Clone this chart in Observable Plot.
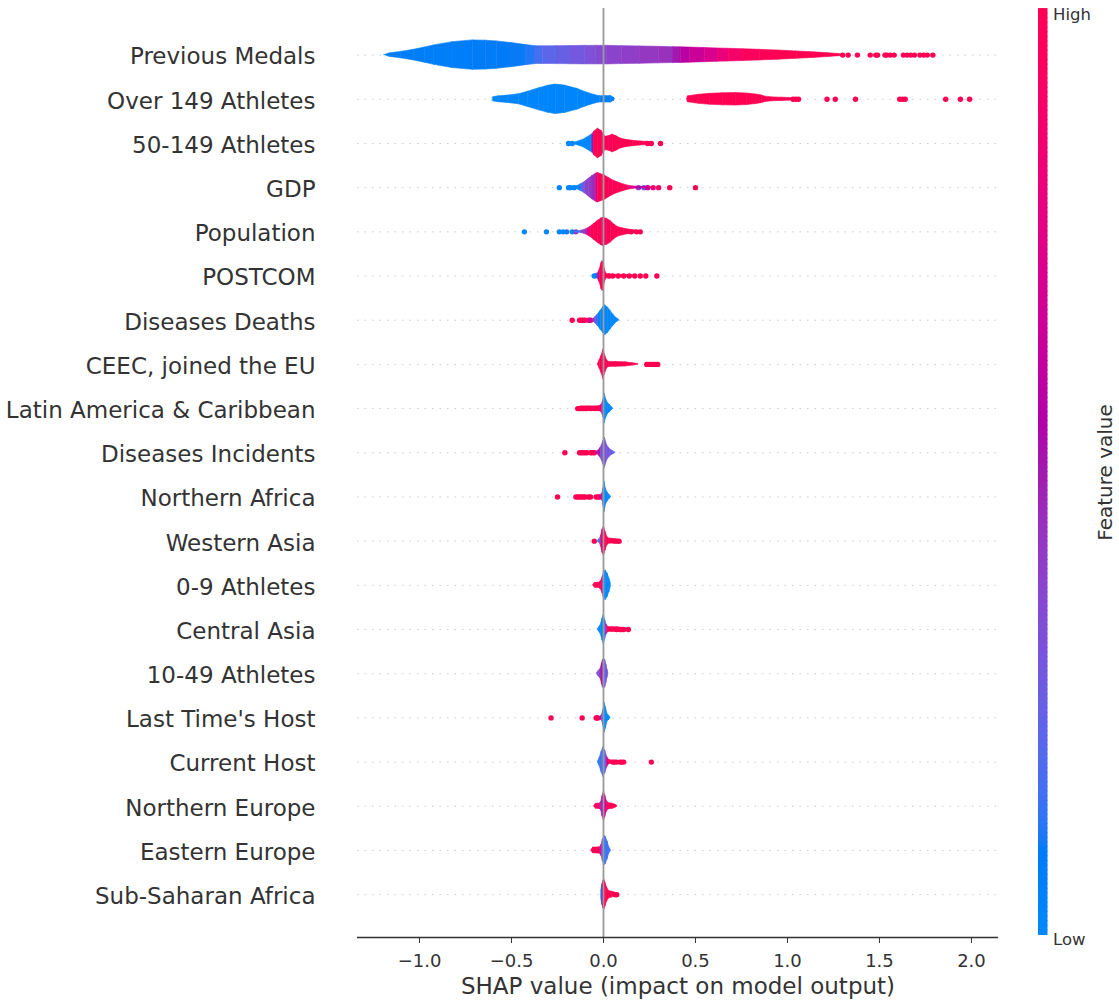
<!DOCTYPE html>
<html><head><meta charset="utf-8">
<script src="https://cdn.jsdelivr.net/npm/d3@7"></script>
<script src="https://cdn.jsdelivr.net/npm/@observablehq/plot@0.6"></script>
<style>
html,body{margin:0;padding:0;background:#fff;}
#wrap{position:relative;width:1119px;height:1002px;font-family:"DejaVu Sans";}
#main{position:absolute;left:0;top:0;}
#cb{position:absolute;left:1030px;top:0;}
</style></head><body><div id="wrap"><div id="main"></div><div id="cb"></div></div>
<script>
// Features, top to bottom
const features = ["Previous Medals","Over 149 Athletes","50-149 Athletes","GDP","Population","POSTCOM","Diseases Deaths","CEEC, joined the EU","Latin America & Caribbean","Diseases Incidents","Northern Africa","Western Asia","0-9 Athletes","Central Asia","10-49 Athletes","Last Time's Host","Current Host","Northern Europe","Eastern Europe","Sub-Saharan Africa"];
const xTicks = [-1.0,-0.5,0.0,0.5,1.0,1.5,2.0];

// Violin profiles: [SHAP value, relative density (0..1), mean feature value (0 low .. 1 high)]
const pmProfile = [[-1.19,0.00,0.07],[-1.16,0.12,0.07],[-1.10,0.22,0.07],[-1.03,0.36,0.07],[-0.97,0.52,0.07],[-0.92,0.66,0.07],[-0.82,0.88,0.07],[-0.71,1.00,0.08],[-0.64,0.98,0.08],[-0.58,0.93,0.08],[-0.50,0.82,0.09],[-0.42,0.68,0.10],[-0.37,0.61,0.12],[-0.33,0.60,0.20],[-0.25,0.61,0.23],[-0.18,0.62,0.26],[-0.10,0.63,0.30],[-0.04,0.63,0.34],[0.02,0.63,0.37],[0.10,0.61,0.39],[0.20,0.59,0.41],[0.30,0.56,0.43],[0.38,0.54,0.45],[0.42,0.53,0.55],[0.47,0.51,0.62],[0.55,0.48,0.68],[0.62,0.45,0.76],[0.68,0.43,0.86],[0.76,0.40,0.93],[0.85,0.36,0.98],[0.95,0.31,1],[1.05,0.25,1],[1.14,0.19,1],[1.22,0.13,1],[1.28,0.07,1],[1.31,0.02,1]];
const o149Profile = [[-0.60,0.14,0.02],[-0.57,0.20,0.02],[-0.52,0.25,0.02],[-0.46,0.34,0.02],[-0.41,0.52,0.02],[-0.35,0.75,0.02],[-0.30,0.92,0.02],[-0.26,1.00,0.02],[-0.21,0.93,0.02],[-0.14,0.70,0.02],[-0.10,0.50,0.02],[-0.05,0.30,0.03],[-0.02,0.21,0.04],[0.01,0.22,0.05],[0.04,0.22,0.05],[0.058,0.10,0.05],[0.062,0,0.05],[0.455,0,1],[0.46,0.20,1],[0.52,0.31,1],[0.58,0.37,1],[0.65,0.41,1],[0.72,0.42,1],[0.78,0.39,1],[0.83,0.32,1],[0.86,0.26,1],[0.88,0.18,1],[0.92,0.13,1],[0.97,0.11,1],[1.01,0.09,1],[1.04,0.03,1]];
const a50Profile = [[-0.17,0.00,0],[-0.15,0.08,0],[-0.11,0.25,0],[-0.07,0.55,0],[-0.06,0.62,0.05],[-0.05,0.80,1],[-0.03,1.00,1],[-0.01,0.85,1],[0.01,0.45,1],[0.03,0.50,0.95],[0.05,0.60,1],[0.07,0.50,1],[0.09,0.35,1],[0.12,0.25,1],[0.16,0.18,1],[0.20,0.14,1],[0.24,0.10,1],[0.26,0.02,1]];
const gdpProfile = [[-0.17,0.03,0],[-0.14,0.12,0],[-0.12,0.25,0.1],[-0.10,0.40,0.35],[-0.08,0.60,0.40],[-0.06,0.80,0.42],[-0.04,0.95,0.48],[-0.03,1.00,1],[-0.01,0.90,1],[0.01,0.80,1],[0.03,0.65,1],[0.05,0.50,0.98],[0.08,0.35,1],[0.11,0.22,1],[0.14,0.12,0.95],[0.18,0.06,0.6],[0.22,0.05,0.5],[0.25,0.03,0.9],[0.28,0.01,0.9]];
const popProfile = [[-0.16,0.02,0.1],[-0.12,0.08,0.2],[-0.09,0.20,0.6],[-0.07,0.35,0.95],[-0.05,0.55,1],[-0.03,0.75,1],[-0.01,0.92,0.95],[0.00,0.95,0.92],[0.02,0.88,0.95],[0.04,0.72,1],[0.06,0.48,1],[0.08,0.32,1],[0.11,0.22,1],[0.14,0.15,1],[0.17,0.10,1],[0.20,0.03,1]];
const postProfile = [[-0.06,0.02,0],[-0.04,0.15,0],[-0.03,0.18,0.2],[-0.02,0.45,1],[-0.01,0.90,1],[-0.004,1.00,1],[0.003,0.70,1],[0.01,0.30,1],[0.02,0.12,1],[0.05,0.09,1],[0.10,0.08,1],[0.15,0.06,1],[0.18,0.03,1]];
const ddProfile = [[-0.06,0.02,0.5],[-0.045,0.20,0.4],[-0.03,0.40,0.1],[-0.015,0.65,0],[0.00,0.90,0],[0.01,1.00,0],[0.025,0.85,0],[0.04,0.60,0],[0.055,0.35,0],[0.07,0.15,0],[0.085,0.03,0]];
const ceecProfile = [[-0.03,0.02,1],[-0.02,0.30,1],[-0.01,0.60,1],[0.00,1.00,1],[0.01,0.55,1],[0.02,0.25,1],[0.03,0.17,1],[0.07,0.16,1],[0.12,0.14,1],[0.16,0.08,1],[0.19,0.02,1]];
const latProfile = [[-0.14,0.05,1],[-0.12,0.15,1],[-0.08,0.15,1],[-0.04,0.15,1],[-0.02,0.17,1],[-0.008,0.30,0.8],[0.00,0.60,0],[0.006,1.00,0],[0.015,0.60,0],[0.025,0.35,0],[0.035,0.25,0],[0.045,0.10,0],[0.052,0.02,0]];
const diProfile = [[-0.05,0.03,0.9],[-0.03,0.12,0.7],[-0.015,0.35,0.35],[0.00,0.80,0.3],[0.008,1.00,0.3],[0.02,0.50,0.3],[0.035,0.25,0.3],[0.05,0.12,0.25],[0.065,0.02,0.2]];
const nafProfile = [[-0.03,0.05,1],[-0.015,0.10,0.9],[-0.006,0.25,0.4],[0.00,0.60,0],[0.006,1.00,0],[0.014,0.50,0],[0.025,0.25,0],[0.035,0.10,0],[0.042,0.02,0]];
const wasProfile = [[-0.03,0.03,0.1],[-0.02,0.15,0.05],[-0.012,0.40,0.5],[-0.005,0.80,1],[0.003,1.00,1],[0.012,0.60,1],[0.02,0.30,1],[0.03,0.18,1],[0.05,0.16,1],[0.07,0.12,1],[0.085,0.05,1]];
const a0Profile = [[-0.055,0.05,1],[-0.045,0.17,1],[-0.025,0.18,1],[-0.012,0.30,1],[-0.005,0.55,0.8],[0.003,0.85,0],[0.012,1.00,0],[0.022,0.80,0],[0.032,0.45,0],[0.04,0.10,0]];
const casProfile = [[-0.03,0.03,0],[-0.015,0.30,0],[-0.005,0.75,0],[0.002,1.00,0],[0.01,0.60,0.1],[0.018,0.30,0.4],[0.026,0.17,1],[0.05,0.16,1],[0.08,0.15,1],[0.10,0.10,1],[0.115,0.04,1]];
const a10Profile = [[-0.035,0.05,0.4],[-0.025,0.20,0.3],[-0.015,0.35,0.35],[-0.008,0.70,0.62],[-0.002,0.95,0.5],[0.004,1.00,0.28],[0.01,0.90,0.27],[0.016,0.60,0.27],[0.022,0.25,0.27],[0.026,0.05,0.27]];
const lthProfile = [[-0.02,0.05,1],[-0.008,0.20,0.3],[0.00,0.55,0],[0.006,1.00,0],[0.013,0.70,0],[0.022,0.25,0],[0.03,0.15,0],[0.038,0.02,0]];
const chProfile = [[-0.03,0.03,0.1],[-0.02,0.30,0.12],[-0.01,0.70,0.15],[0.00,1.00,0.17],[0.01,0.75,0.18],[0.02,0.35,0.4],[0.03,0.15,1],[0.045,0.10,1],[0.06,0.08,1],[0.08,0.05,1],[0.10,0.02,1]];
const neuProfile = [[-0.05,0.05,1],[-0.04,0.17,1],[-0.02,0.18,1],[-0.012,0.30,0.3],[-0.005,0.70,0.55],[0.003,1.00,0.62],[0.01,0.70,0.63],[0.018,0.35,0.7],[0.03,0.20,1],[0.05,0.17,1],[0.065,0.10,1],[0.075,0.03,1]];
const eeuProfile = [[-0.065,0.05,1],[-0.055,0.20,1],[-0.035,0.20,1],[-0.018,0.22,1],[-0.01,0.40,0.55],[-0.003,0.75,0.18],[0.005,1.00,0.15],[0.013,0.90,0.14],[0.022,0.60,0.14],[0.03,0.25,0.14],[0.04,0.03,0.14]];
const ssaProfile = [[-0.012,0.30,0],[-0.006,0.70,0.05],[0.00,0.95,1],[0.005,1.00,1],[0.012,0.75,1],[0.02,0.45,1],[0.03,0.25,1],[0.045,0.20,1],[0.06,0.15,1],[0.072,0.05,1]];

// Individual points: [SHAP value, feature value]
const pmDots = [[1.30,1],[1.33,1],[1.38,1],[1.45,1],[1.48,1],[1.49,1],[1.53,1],[1.54,1],[1.56,1],[1.58,1],[1.63,1],[1.65,1],[1.67,1],[1.69,1],[1.72,1],[1.74,1],[1.76,1],[1.79,1]];
const o149Dots = [[1.03,1],[1.045,1],[1.06,1],[1.215,1],[1.26,1],[1.37,1],[1.61,1],[1.625,1],[1.64,1],[1.86,1],[1.94,1],[1.99,1]];
const a50Dots = [[-0.19,0],[-0.17,0],[0.24,1],[0.26,1],[0.31,1]];
const gdpDots = [[-0.24,0],[-0.19,0],[-0.18,0],[-0.16,0.05],[0.19,0.4],[0.22,0.3],[0.24,0.6],[0.27,0.8],[0.30,0.9],[0.36,1],[0.50,1]];
const popDots = [[-0.43,0],[-0.31,0],[-0.24,0],[-0.22,0],[-0.20,0.1],[-0.17,0],[-0.15,0.4],[0.15,0.9],[0.18,1],[0.20,1]];
const postDots = [[-0.05,0],[0.03,1],[0.05,1],[0.08,1],[0.11,1],[0.14,1],[0.17,1],[0.20,1],[0.23,1],[0.29,1]];
const ddDots = [[-0.17,1],[-0.13,1],[-0.12,1],[-0.11,1],[-0.10,0.9],[-0.08,1],[-0.07,0.7]];
const ceecDots = [[0.235,1],[0.245,1],[0.255,1],[0.265,1],[0.275,1],[0.285,1],[0.295,1]];
const latDots = [[-0.14,1],[-0.13,1],[-0.12,1],[-0.11,1],[-0.10,1],[-0.09,1],[-0.07,1],[-0.05,1],[-0.03,1]];
const diDots = [[-0.21,1],[-0.13,1],[-0.12,1],[-0.11,1],[-0.10,1],[-0.09,1],[-0.07,1],[-0.06,1],[-0.05,1]];
const nafDots = [[-0.25,1],[-0.15,1],[-0.14,1],[-0.13,1],[-0.12,1],[-0.11,1],[-0.10,1],[-0.08,1],[-0.07,1],[-0.04,1],[-0.03,1],[-0.02,1]];
const wasDots = [[-0.05,1],[0.06,1],[0.075,1],[0.085,1]];
const a0Dots = [];
const casDots = [[0.07,1],[0.09,1],[0.10,1],[0.11,1],[0.135,1]];
const a10Dots = [];
const lthDots = [[-0.285,1],[-0.116,1],[-0.04,1],[-0.035,1],[-0.03,1]];
const chDots = [[0.05,1],[0.06,1],[0.07,1],[0.09,1],[0.10,1],[0.11,1],[0.26,1]];
const neuDots = [];
const eeuDots = [];
const ssaDots = [[0.065,1],[0.072,1]];

const profiles = [pmProfile,o149Profile,a50Profile,gdpProfile,popProfile,postProfile,ddProfile,ceecProfile,latProfile,diProfile,nafProfile,wasProfile,a0Profile,casProfile,a10Profile,lthProfile,chProfile,neuProfile,eeuProfile,ssaProfile];
const dotsList = [pmDots,o149Dots,a50Dots,gdpDots,popDots,postDots,ddDots,ceecDots,latDots,diDots,nafDots,wasDots,a0Dots,casDots,a10Dots,lthDots,chDots,neuDots,eeuDots,ssaDots];

// SHAP red_blue colormap (LCH path from blue to red with darker middle)
function shapRedBlue(t) {
  const L = t < 0.5 ? 54 + (40 - 54) * (t / 0.5) : 40 + (54 - 40) * ((t - 0.5) / 0.5);
  const C = 70 + (90 - 70) * t;
  const h0 = 4.6588, h1 = 0.35470565 + 2 * Math.PI;
  const H = (h0 + (h1 - h0) * t) * 180 / Math.PI;
  return d3.hcl(H, C, L).formatHex();
}
const colorScale = {type: "linear", domain: [0, 1], interpolate: () => shapRedBlue};

const segs = [];
profiles.forEach((p, row) => {
  for (let k = 0; k < p.length - 1; k++) {
    const a = p[k], b = p[k + 1];
    if (a[1] < 0.005 && b[1] < 0.005) continue;
    const id = row * 1000 + k;
    const c = (a[2] + b[2]) / 2;
    segs.push({id, row, x: a[0], w: a[1], c}, {id, row, x: b[0], w: b[1], c});
  }
});
const dotRows = [];
dotsList.forEach((ds, row) => ds.forEach(d => dotRows.push({row, x: d[0], c: d[1]})));
const rows = features.map((f, i) => i);
const yTop = -1.055, yBottom = 19.97;

const main = Plot.plot({
  width: 1119, height: 1002,
  marginLeft: 357, marginRight: 121, marginTop: 8, marginBottom: 65,
  style: {fontFamily: "DejaVu Sans", color: "#333", background: "#fff"},
  x: {domain: [-1.337, 2.147], range: [357, 998]},
  y: {domain: [yTop, yBottom], range: [8, 937]},
  color: colorScale,
  marks: [
    Plot.ruleY(rows, {y: d => d, stroke: "#cccccc", strokeWidth: 1, strokeDasharray: "1.5,6"}),
    Plot.dot(dotRows, {x: "x", y: "row", r: 2.7, fill: "c", stroke: null}),
    Plot.areaY(segs, {x: "x", y1: d => d.row - d.w / 3, y2: d => d.row + d.w / 3, z: "id", fill: "c", stroke: "c", strokeWidth: 0.6, curve: "linear"}),
    Plot.ruleX([0], {stroke: "#999999", strokeWidth: 1.8}),
    Plot.ruleY([yBottom], {stroke: "#333", strokeWidth: 1.3}),
    Plot.axisY({ticks: rows, tickFormat: i => features[i], tickSize: 0, tickPadding: 42, fontSize: 23, dy: 2, label: null}),
    Plot.axisX({ticks: xTicks, tickFormat: d3.format(".1f"), tickSize: 6, tickPadding: 11, fontSize: 18, label: null}),
    Plot.text(["SHAP value (impact on model output)"], {text: d => d, frameAnchor: "bottom", dy: 49.5, fontSize: 23, fill: "#333", lineAnchor: "middle"})
  ]
});
document.getElementById("main").appendChild(main);

const nSteps = 200;
const cbSteps = d3.range(nSteps).map(i => i / nSteps);
const cb = Plot.plot({
  width: 89, height: 1002,
  margin: 0,
  style: {fontFamily: "DejaVu Sans", color: "#333", background: "transparent", overflow: "visible"},
  x: {domain: [0, 1], range: [8, 17.5], axis: null},
  y: {domain: [0, 1], range: [935, 9], axis: null},
  color: colorScale,
  marks: [
    Plot.rect(cbSteps, {x1: 0, x2: 1, y1: d => d, y2: d => d + 1 / nSteps + 0.001, fill: d => d + 0.5 / nSteps}),
    Plot.text(["High"], {text: d => d, x: 1, y: 1, dx: 5, dy: 5, textAnchor: "start", fontSize: 16.5, fill: "#333"}),
    Plot.text(["Low"], {text: d => d, x: 1, y: 0, dx: 5, dy: 4, textAnchor: "start", fontSize: 16.5, fill: "#333"}),
    Plot.text(["Feature value"], {text: d => d, x: 1, y: 0.5, dx: 58, rotate: -90, fontSize: 20, fill: "#333"})
  ]
});
document.getElementById("cb").appendChild(cb);
</script>
</body></html>
